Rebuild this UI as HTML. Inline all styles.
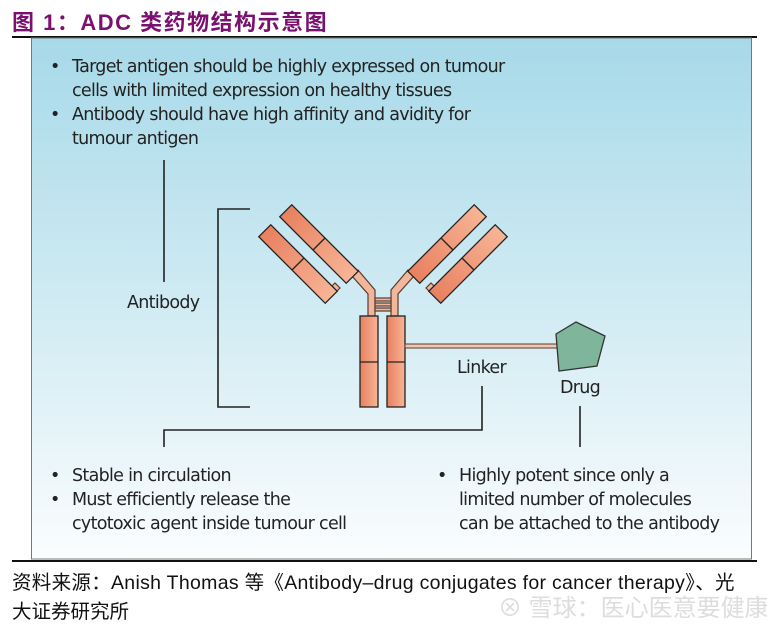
<!DOCTYPE html>
<html><head><meta charset="utf-8"><style>
body{margin:0;background:#fff;width:767px;height:627px;overflow:hidden;position:relative;font-family:"Liberation Sans","Noto Sans CJK SC",sans-serif}
.t{position:absolute;white-space:nowrap}
</style></head><body>
<div class="t" style="left:12px;top:5px;font-size:22px;font-weight:bold;color:#7a1070;letter-spacing:1.5px;font-family:'Liberation Sans','Noto Sans CJK SC',sans-serif">图 1：ADC 类药物结构示意图</div>
<div style="position:absolute;left:12px;top:36px;width:745px;height:2px;background:#111"></div>
<svg style="position:absolute;left:0;top:0" width="767" height="627">
<defs>
<linearGradient id="bg" x1="0" y1="0" x2="0" y2="1"><stop offset="0" stop-color="#a7d9e9"/><stop offset="0.6" stop-color="#d8eef5"/><stop offset="1" stop-color="#fbfdfe"/></linearGradient>
<linearGradient id="or" x1="0" y1="0" x2="1" y2="0"><stop offset="0" stop-color="#e8805f"/><stop offset="1" stop-color="#f7b596"/></linearGradient>
<g id="chain"><rect x="-47" y="-8.5" width="94" height="17" fill="url(#or)" stroke="#222" stroke-width="1.3"/><line x1="0" y1="-8.5" x2="0" y2="8.5" stroke="#222" stroke-width="1.3"/></g>
</defs>
<rect x="31.5" y="38" width="720" height="521" fill="url(#bg)" stroke="#777" stroke-width="1"/>
<line x1="12" y1="561" x2="757" y2="561" stroke="#111" stroke-width="2"/>
<g stroke="#222" stroke-width="1.6" fill="none">
<polyline points="250,209 218,209 218,407 250,407"/>
<line x1="164" y1="160" x2="164" y2="282"/>
<polyline points="482,386 482,430 164,430 164,447"/>
<line x1="580" y1="406" x2="580" y2="447"/>
</g>
<g stroke="#5a3a30" stroke-width="1.2" fill="#f2b79b">
<polygon points="352,276 358,270 375,290 375,316 368,316 368,294"/>
<polygon points="414,276 408,270 391,290 391,316 398,316 398,294"/>
<rect x="375" y="298" width="16" height="3"/><rect x="375" y="303" width="16" height="3"/><rect x="375" y="308" width="16" height="3"/>
<polygon points="330,288 335,283 340,288 335,293"/>
<polygon points="436,288 431,283 426,288 431,293"/>
</g>
<use href="#chain" transform="translate(319,244) rotate(45)"/>
<use href="#chain" transform="translate(298,264) rotate(45)"/>
<use href="#chain" transform="translate(447,244) rotate(-45)"/>
<use href="#chain" transform="translate(468,264) rotate(-45)"/>
<g stroke="#222" stroke-width="1.3">
<rect x="360" y="316" width="18" height="91" fill="url(#or)"/><line x1="360" y1="362" x2="378" y2="362"/>
<rect x="387" y="316" width="18" height="91" fill="url(#or)"/><line x1="387" y1="362" x2="405" y2="362"/>
</g>
<rect x="405" y="344" width="152" height="4" fill="#f2c7b0" stroke="#5a3a30" stroke-width="1"/>
<polygon points="556,334 576,322 605,336 597,366 559,371" fill="#7fb59a" stroke="#333" stroke-width="1.3"/>
</svg>
<div style="position:absolute;left:0;top:0;font-size:17.5px;color:#222;font-family:'DejaVu Sans','Liberation Sans',sans-serif;letter-spacing:-0.7px">
<div class="t" style="left:50px;top:57px">•</div><div class="t" style="left:72px;top:57px">Target antigen should be highly expressed on tumour</div>
<div class="t" style="left:72px;top:81px">cells with limited expression on healthy tissues</div>
<div class="t" style="left:50px;top:105px">•</div><div class="t" style="left:72px;top:105px">Antibody should have high affinity and avidity for</div>
<div class="t" style="left:72px;top:129px">tumour antigen</div>
<div class="t" style="left:127px;top:293px">Antibody</div>
<div class="t" style="left:457px;top:358px">Linker</div>
<div class="t" style="left:560px;top:378px">Drug</div>
<div class="t" style="left:50px;top:466px">•</div><div class="t" style="left:72px;top:466px">Stable in circulation</div>
<div class="t" style="left:50px;top:490px">•</div><div class="t" style="left:72px;top:490px">Must efficiently release the</div>
<div class="t" style="left:72px;top:514px">cytotoxic agent inside tumour cell</div>
<div class="t" style="left:437px;top:466px">•</div><div class="t" style="left:459px;top:466px">Highly potent since only a</div>
<div class="t" style="left:459px;top:490px">limited number of molecules</div>
<div class="t" style="left:459px;top:514px">can be attached to the antibody</div>
</div>
<div class="t" style="left:12px;top:566px;font-size:19.5px;color:#111;letter-spacing:0.3px">资料来源：Anish Thomas 等《Antibody–drug conjugates for cancer therapy》、光</div>
<div class="t" style="left:12px;top:595px;font-size:19.5px;color:#111">大证券研究所</div>
<div class="t" style="left:498px;top:588px;font-size:24px;color:#ddd">⊗ 雪球：医心医意要健康</div>
</body></html>
